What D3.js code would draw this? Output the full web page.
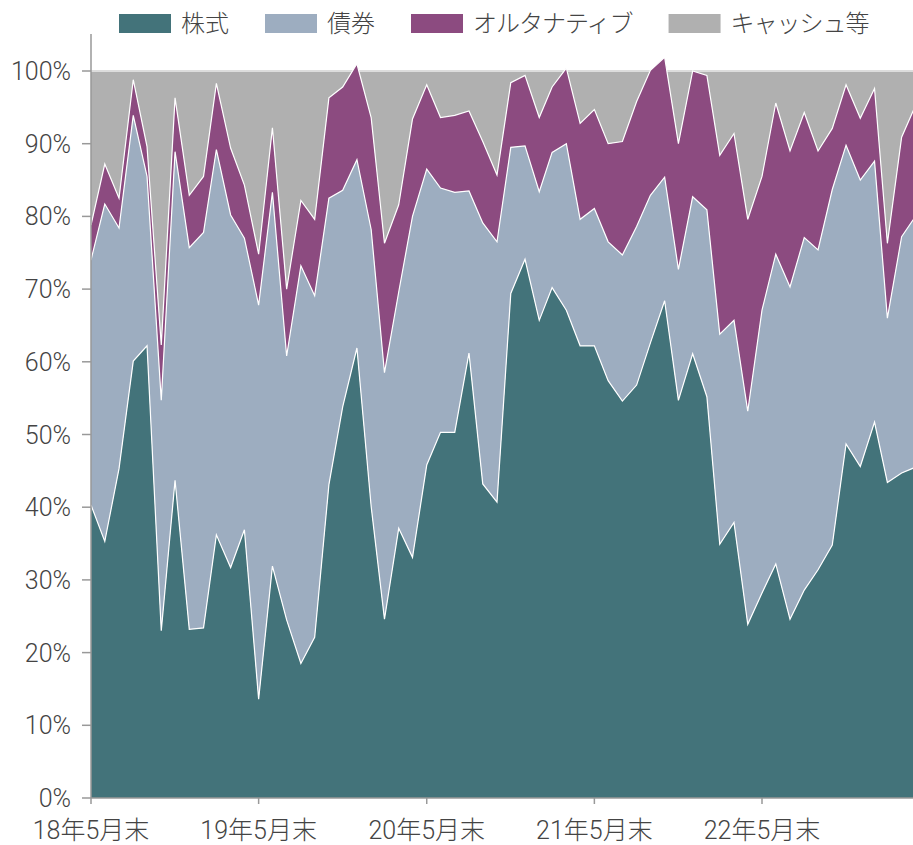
<!DOCTYPE html>
<html>
<head>
<meta charset="utf-8">
<script src="https://cdn.jsdelivr.net/npm/d3@7/dist/d3.min.js"></script>
<style>
  html, body { margin: 0; padding: 0; background: #fff; }
  svg { display: block; }
  text { font-family: Roboto, "Noto Sans CJK JP", sans-serif; font-weight: 300; fill: #444; }
</style>
</head>
<body>
<svg id="chart" width="913" height="845"></svg>
<script>
// ---- data ----
const months = [
  "2018-05","2018-06","2018-07","2018-08","2018-09","2018-10","2018-11","2018-12",
  "2019-01","2019-02","2019-03","2019-04","2019-05","2019-06","2019-07","2019-08","2019-09","2019-10","2019-11","2019-12",
  "2020-01","2020-02","2020-03","2020-04","2020-05","2020-06","2020-07","2020-08","2020-09","2020-10","2020-11","2020-12",
  "2021-01","2021-02","2021-03","2021-04","2021-05","2021-06","2021-07","2021-08","2021-09","2021-10","2021-11","2021-12",
  "2022-01","2022-02","2022-03","2022-04","2022-05","2022-06","2022-07","2022-08","2022-09","2022-10","2022-11","2022-12",
  "2023-01","2023-02","2023-03","2023-04"
];
const seriesNames = ["株式", "債券", "オルタナティブ", "キャッシュ等"];
const stock = [40.3,35.3,45.3,60.1,62.2,23.0,43.7,23.2,23.4,36.2,31.7,36.9,13.6,31.9,24.5,18.5,22.1,43.1,53.8,61.9,
  40.1,24.6,37.1,33.1,45.8,50.3,50.3,61.2,43.2,40.7,69.4,74.1,65.7,70.2,67.1,62.2,62.2,57.4,54.6,56.8,
  62.6,68.4,54.7,61.1,55.2,34.9,37.9,23.9,28.2,32.2,24.6,28.6,31.4,34.8,48.7,45.6,51.7,43.4,44.7,45.5];
const bond = [33.7,46.4,33.1,33.8,23.3,31.7,45.2,52.5,54.4,53.0,48.5,40.1,54.2,51.4,36.3,54.7,47.0,39.4,29.8,25.9,
  38.1,33.9,32.5,46.9,40.7,33.6,33.0,22.3,35.9,35.8,20.1,15.6,17.7,18.6,22.9,17.4,18.9,19.1,20.1,21.8,
  20.3,17.0,18.0,21.6,25.7,28.9,27.8,29.3,38.9,42.6,45.7,48.5,44.0,48.9,41.1,39.4,35.9,22.6,32.5,34.5];
const alternative = [4.8,5.5,4.1,4.9,4.1,7.6,7.4,7.2,7.7,9.1,9.2,7.3,7.0,8.9,9.2,9.0,10.5,13.8,14.2,13.2,
  15.4,17.8,12.0,13.4,11.6,9.7,10.6,11.0,11.2,9.2,8.9,9.7,10.2,9.0,10.4,13.2,13.6,13.5,15.6,17.2,
  17.2,16.5,17.3,17.3,18.5,24.6,25.7,26.4,18.4,20.8,18.7,17.2,13.6,8.4,8.3,8.5,10.0,10.3,13.7,15.2];
const cash = [21.2,12.8,17.5,1.2,10.4,37.7,3.7,17.1,14.5,1.7,10.6,15.7,25.2,7.8,30.0,17.8,20.4,3.7,2.2,-1.0,
  6.4,23.7,18.4,6.6,1.9,6.4,6.1,5.5,9.7,14.3,1.6,0.6,6.4,2.2,-0.4,7.2,5.3,10.0,9.7,4.2,
  -0.1,-1.9,10.0,0.0,0.6,11.6,8.6,20.4,14.5,4.4,11.0,5.7,11.0,7.9,1.9,6.5,2.4,23.7,9.1,4.8];
const yTicks = [0,10,20,30,40,50,60,70,80,90,100];
const xTickMonths = ["2018-05","2019-05","2020-05","2021-05","2022-05"];
const xTickLabels = ["18年5月末","19年5月末","20年5月末","21年5月末","22年5月末"];
const colors = ["#43737a", "#9dadc0", "#8c4b80", "#b0b0b0"];

// ---- helpers ----
const monthEnd = s => { const [yy, mm] = s.split("-").map(Number); return new Date(yy, mm, 0); };
const dates = months.map(monthEnd);

const svg = d3.select("#chart");
const W = 913;
const mLeft = 91, mBottom = 798, mTop = 34;

const x = d3.scaleTime()
  .domain([monthEnd("2018-05"), monthEnd("2023-04")])
  .range([mLeft, 915.4]);
const y = d3.scaleLinear().domain([0, 105]).range([mBottom, mBottom - 105 * 7.27]);

// stacked rows
const rows = dates.map((d, i) => ({ date: d, s: [stock[i], bond[i], alternative[i], cash[i]] }));
const cum = rows.map(r => { let acc = 0; return r.s.map(v => (acc += v)); });

const areaFor = k => d3.area()
  .x((d, i) => x(dates[i]))
  .y0((d, i) => y(k === 0 ? 0 : cum[i][k - 1]))
  .y1((d, i) => y(cum[i][k]));
const lineFor = k => d3.line()
  .x((d, i) => x(dates[i]))
  .y((d, i) => y(cum[i][k]));

const g = svg.append("g");
// cash first (background up to 100%)
g.append("path").datum(rows).attr("d", areaFor(3)).attr("fill", colors[3]);
g.append("path").datum(rows).attr("d", lineFor(3))
  .attr("fill", "none").attr("stroke", "#dcdcdc").attr("stroke-width", 2);
[0, 1, 2].forEach(k => {
  g.append("path").datum(rows).attr("d", areaFor(k)).attr("fill", colors[k]);
});
[0, 1, 2].forEach(k => {
  g.append("path").datum(rows).attr("d", lineFor(k))
    .attr("fill", "none").attr("stroke", "#fff").attr("stroke-width", 1.2);
});

// y axis
const yAxis = svg.append("g");
yAxis.append("line").attr("x1", mLeft).attr("x2", mLeft).attr("y1", mTop).attr("y2", mBottom)
  .attr("stroke", "#999").attr("stroke-width", 1.5);
yTicks.forEach(t => {
  yAxis.append("line").attr("x1", mLeft - 9).attr("x2", mLeft).attr("y1", y(t)).attr("y2", y(t))
    .attr("stroke", "#999").attr("stroke-width", 1.5);
  yAxis.append("text").attr("x", mLeft - 20).attr("y", y(t)).attr("dy", "0.36em")
    .attr("text-anchor", "end").attr("font-size", 25).text(t + "%");
});

// x axis
const xAxis = svg.append("g");
xAxis.append("line").attr("x1", mLeft).attr("x2", W).attr("y1", mBottom).attr("y2", mBottom)
  .attr("stroke", "#999").attr("stroke-width", 1.5);
xTickMonths.forEach((m, i) => {
  const px = x(monthEnd(m));
  xAxis.append("line").attr("x1", px).attr("x2", px).attr("y1", mBottom).attr("y2", mBottom + 6)
    .attr("stroke", "#999").attr("stroke-width", 1.5);
  xAxis.append("text").attr("x", px).attr("y", 839).attr("text-anchor", "middle")
    .attr("font-size", 25).text(xTickLabels[i]);
});

// legend
const legend = svg.append("g");
let lx = 119;
seriesNames.forEach((name, k) => {
  legend.append("rect").attr("x", lx).attr("y", 14).attr("width", 52).attr("height", 19)
    .attr("fill", colors[k]);
  const t = legend.append("text").attr("x", lx + 62).attr("y", 32).attr("font-size", 24)
    .attr("letter-spacing", k >= 2 ? -1 : 0).text(name);
  lx += 62 + t.node().getComputedTextLength() + 36;
});
</script>
</body>
</html>
